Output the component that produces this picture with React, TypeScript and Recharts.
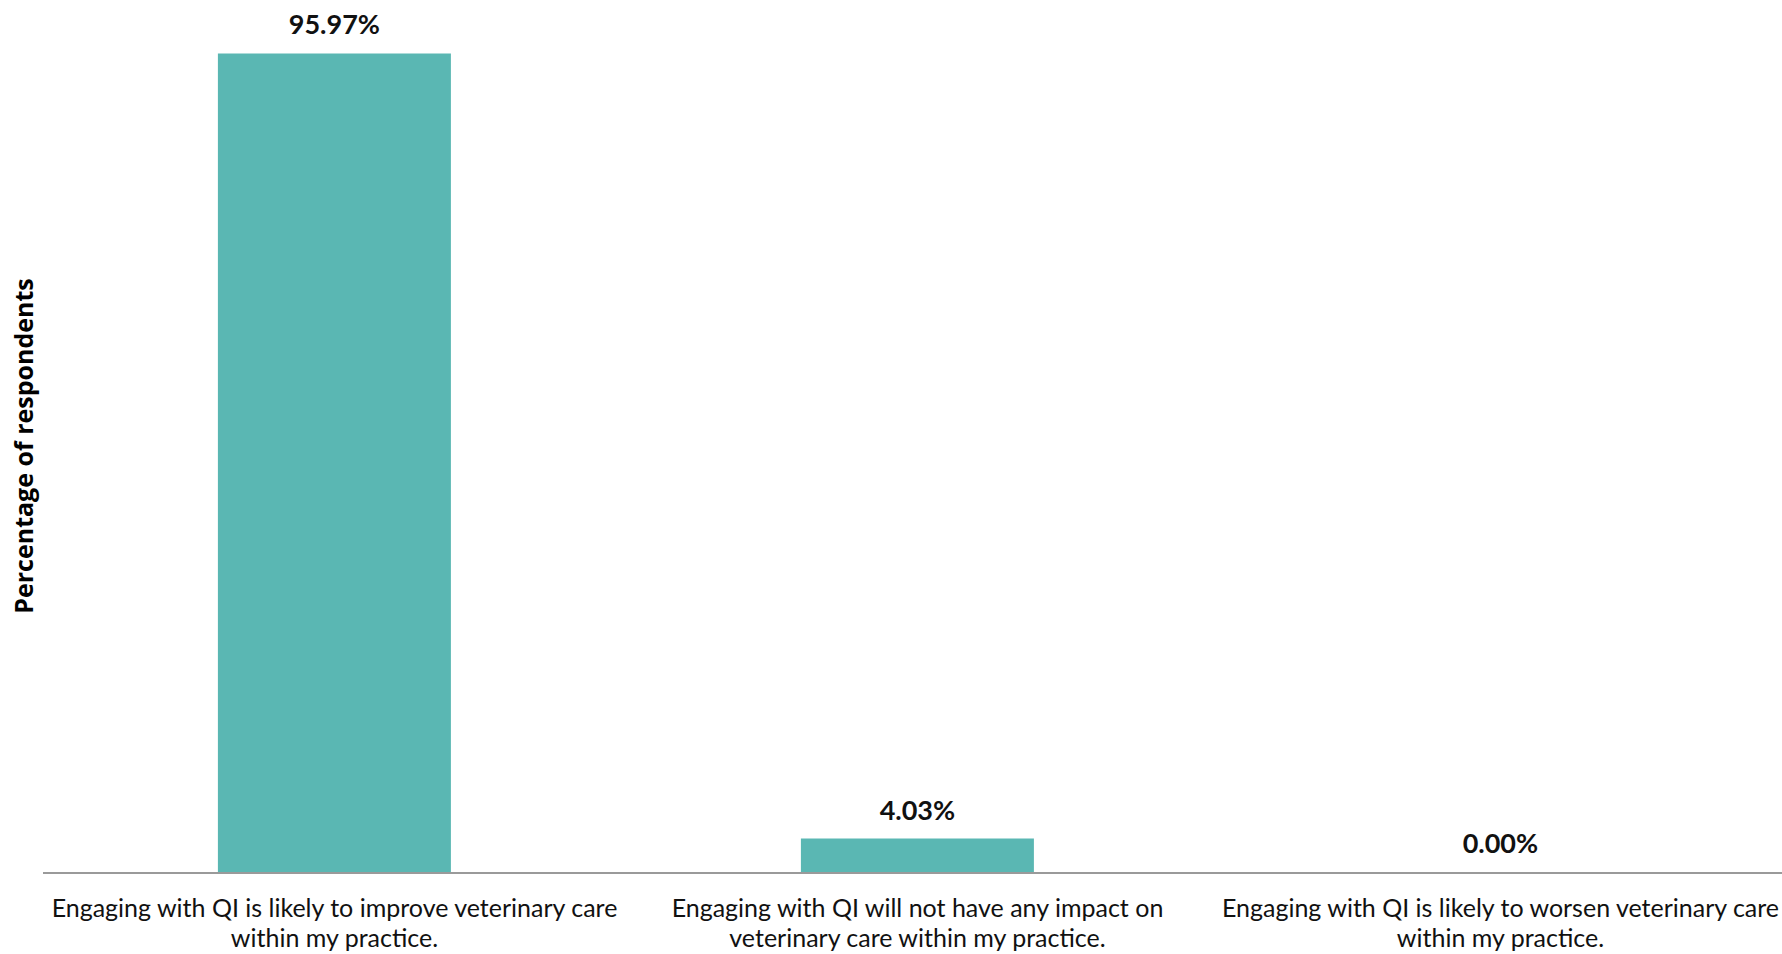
import React from 'react';
import { BarChart, Bar, XAxis, YAxis, LabelList, Rectangle } from 'recharts';

// category labels, split into the two lines shown under the axis
const categoryLines: string[][] = [
  ['Engaging with QI is likely to improve veterinary care', 'within my practice.'],
  ['Engaging with QI will not have any impact on', 'veterinary care within my practice.'],
  ['Engaging with QI is likely to worsen veterinary care', 'within my practice.'],
];
const categories = categoryLines.map(l => l.join(' '));
const percentages = [95.97, 4.03, 0.0];

const data = categories.map((name, i) => ({ name, value: percentages[i] }));

const BAR_COLOR = '#5AB7B3';

const CategoryTick = (props: any) => {
  const { x, y, payload } = props;
  const idx = categories.indexOf(payload.value);
  const lines = categoryLines[idx] || [payload.value];
  return (
    <text
      x={x}
      y={y}
      textAnchor="middle"
      fill="#111"
      fontFamily="Lato, sans-serif"
      fontSize={25}
    >
      {lines.map((line, i) => (
        <tspan key={i} x={x} dy={i === 0 ? 36 : 30}>
          {line}
        </tspan>
      ))}
    </text>
  );
};

// zero-valued bars still need a slot for their label, but no visible rect
const BarShape = (props: any) => {
  if (!props.value) return <g />;
  return <Rectangle {...props} />;
};

const App = () => {
  return (
    <div style={{ position: 'absolute', left: 0, top: 0, width: 1782, height: 954, overflow: 'hidden', background: '#fff' }}>
      <BarChart
        width={1792}
        height={954}
        data={data}
        margin={{ top: 19, right: 0, left: 0, bottom: 0 }}
        barCategoryGap="30%"
      >
        <XAxis
          dataKey="name"
          height={81}
          tickLine={false}
          axisLine={{ stroke: '#9a9a9a', strokeWidth: 2 }}
          tick={<CategoryTick />}
          interval={0}
        />
        <YAxis
          width={43}
          domain={[0, 100]}
          tick={false}
          axisLine={false}
          tickLine={false}
          label={{
            value: 'Percentage of respondents',
            angle: -90,
            position: 'center',
            dx: 3,
            style: { fontFamily: '"Open Sans", sans-serif', fontWeight: 700, fontSize: 25, fill: '#000' },
          }}
        />
        <Bar dataKey="value" fill={BAR_COLOR} minPointSize={1} shape={BarShape} isAnimationActive={false}>
          <LabelList
            dataKey="value"
            position="top"
            offset={19}
            formatter={(v: any) => `${Number(v).toFixed(2)}%`}
            style={{ fontFamily: 'Lato, sans-serif', fontWeight: 700, fontSize: 27, fill: '#111' }}
          />
        </Bar>
      </BarChart>
    </div>
  );
};

export default App;
